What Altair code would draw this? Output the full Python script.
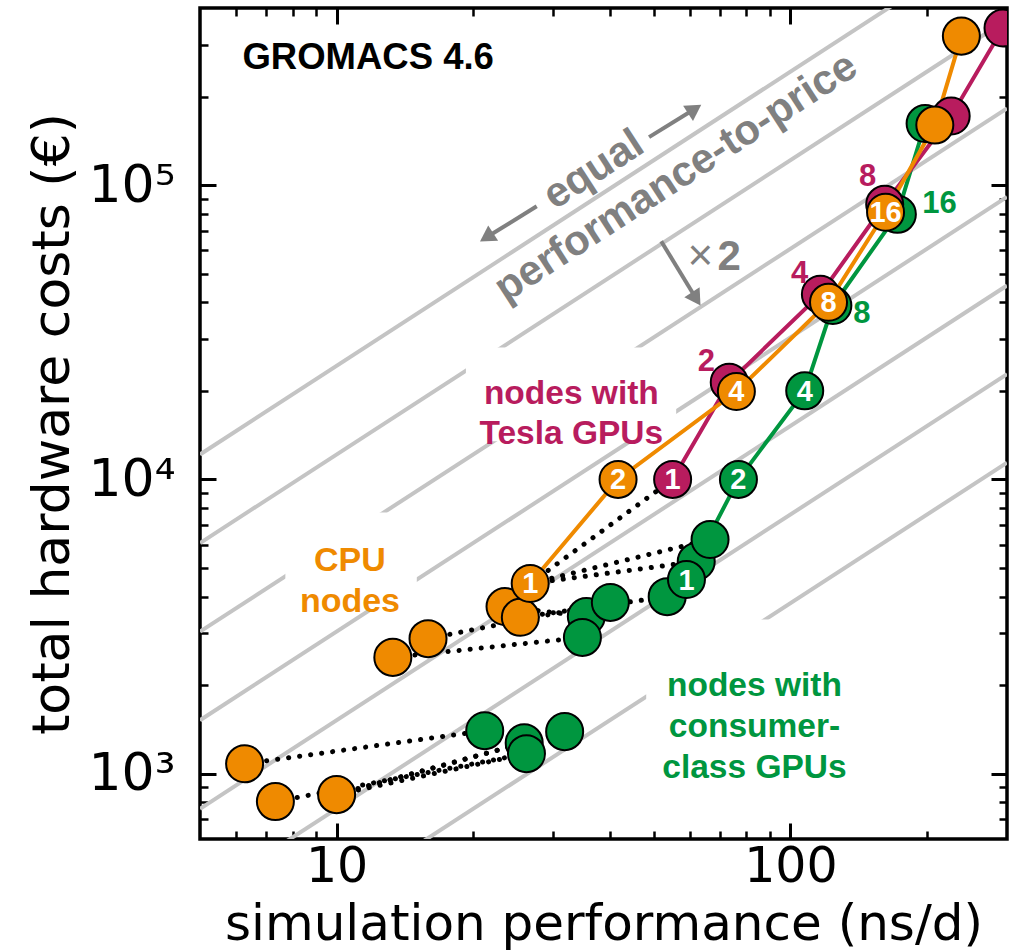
import altair as alt
import pandas as pd

# ---------------- data ----------------
# solid lines: nodes scaled over 1,2,4,8,16 nodes
cpu_perf = [26.7, 41.7, 76.0, 121.3, 162.0, 208.0, 238.0]
cpu_cost = [4430, 10000, 19900, 40000, 80900, 160000, 321000]
cpu_lbl = ["1", "2", "4", "8", "16", "", ""]

tesla_perf = [55.0, 73.3, 116.4, 161.3, 226.0, 294.0]
tesla_cost = [10000, 21400, 42600, 86100, 171800, 342000]
tesla_lbl = ["1", "", "", "", "", ""]

cons_perf = [59.0, 76.8, 107.5, 124.0, 172.0, 198.0]
cons_cost = [4570, 10000, 20000, 39000, 79600, 162000]
cons_lbl = ["1", "2", "4", "", "", ""]

# single-node configurations
cpu_x_perf = [6.27, 7.33, 10.0, 13.3, 15.9, 23.5, 25.4]
cpu_x_cost = [1081, 804, 849, 2485, 2877, 3700, 3400]
cons_x_perf = [21.2, 25.9, 26.2, 31.8, 35.5, 40.1, 34.8, 53.5, 62.0, 66.5]
cons_x_cost = [1400, 1273, 1170, 1390, 3420, 3820, 2905, 3997, 5260, 6250]

# dotted links: CPU node -> same node with GPU(s)
dot_from_perf = [6.27, 7.33, 10.0, 10.0, 10.0, 13.3, 15.9, 23.5, 25.4, 26.7, 26.7, 26.7]
dot_from_cost = [1081, 804, 849, 849, 849, 2485, 2877, 3700, 3400, 4430, 4430, 4430]
dot_to_perf = [21.2, 26.2, 25.9, 26.2, 31.8, 34.8, 40.1, 35.5, 53.5, 55.0, 62.0, 66.5]
dot_to_cost = [1400, 1170, 1273, 1170, 1390, 2905, 3820, 3420, 3997, 10000, 5260, 6250]

# lines of equal performance-to-price (euro per ns/d), factor 2 apart
iso_ratio = [2432, 1216, 608, 304, 152, 76, 38]

# outside point labels
out_lbl = ["2", "4", "8", "8", "16"]
out_perf = [65.3, 104.7, 148.0, 143.6, 213.0]
out_cost = [25000, 49800, 106400, 36400, 86100]
out_grp = ["tesla", "tesla", "tesla", "cons", "cons"]

# white boxes behind the group labels
box_x1 = [19.27, 7.71, 48.1]
box_x2 = [56.0, 15.02, 145.5]
box_y1 = [13470, 3614, 1189]
box_y2 = [28100, 7724, 3344]

X_DOMAIN = [5, 300]
Y_DOMAIN = [600, 400000]
X_MAJOR = [10, 100]
X_MINOR = [6, 7, 8, 9, 20, 30, 40, 50, 60, 70, 80, 90, 200]
Y_MAJOR = [1000, 10000, 100000]
Y_MINOR = [700, 800, 900, 2000, 3000, 4000, 5000, 6000, 7000, 8000, 9000,
           20000, 30000, 40000, 50000, 60000, 70000, 80000, 90000, 200000, 300000]

ORANGE = "#EF8A00"
MAGENTA = "#B81C5E"
GREEN = "#00963F"
GRAY = "#808080"
LGRAY = "#C4C4C4"
FONT = "Liberation Sans"
AXFONT = "DejaVu Sans"

xs = alt.Scale(type="log", domain=X_DOMAIN, nice=False)
ys = alt.Scale(type="log", domain=Y_DOMAIN, nice=False)

# ---------------- axes ----------------
def tick_axis(orient, values, size, width):
    return alt.Axis(orient=orient, values=values, tickSize={"expr": str(-size)},
                    tickWidth=width, tickColor="black", labels=False, domain=False,
                    grid=False, title=None)

ax_x_lab = alt.Axis(orient="bottom", values=X_MAJOR, ticks=False, domain=False, grid=False,
                    format="d", labelFont=AXFONT, labelFontSize=49, labelColor="black",
                    labelPadding=3, labelFlush=False, labelOverlap=False,
                    title="simulation performance (ns/d)", titleFont=AXFONT,
                    titleFontSize=50, titleFontWeight="normal", titleColor="black",
                    titleBaseline="alphabetic", titleY=100)
ax_y_lab = alt.Axis(orient="left", values=Y_MAJOR, ticks=False, domain=False, grid=False,
                    labelExpr="datum.value == 1000 ? '10³' : (datum.value == 10000 ? '10⁴' : '10⁵')",
                    labelFont=AXFONT, labelFontSize=52, labelColor="black",
                    labelPadding=25, labelFlush=False, labelOverlap=False,
                    title="total hardware costs (€)", titleFont=AXFONT,
                    titleFontSize=52, titleFontWeight="normal", titleColor="black",
                    titleAngle=270, titleBaseline="alphabetic", titleAlign="center",
                    titleX=-132, titleY=415.5)

W, H = 807, 831

def X(field, axis):
    return alt.X(field, type="quantitative", scale=xs, axis=axis)

def Y(field, axis):
    return alt.Y(field, type="quantitative", scale=ys, axis=axis)

# ---------------- layers ----------------
iso_rows = []
for r in iso_ratio:
    for xv in X_DOMAIN:
        iso_rows.append({"ratio": r, "perf": xv, "cost": r * xv})
iso_df = pd.DataFrame(iso_rows)
iso = alt.Chart(iso_df).mark_line(clip=True, color=LGRAY, strokeWidth=4).encode(
    x=X("perf", ax_x_lab), y=Y("cost", ax_y_lab), detail="ratio:N")

box_df = pd.DataFrame({"x1": box_x1, "x2": box_x2, "y1": box_y1, "y2": box_y2})
boxes = alt.Chart(box_df).mark_rect(color="white").encode(
    x=X("x1", tick_axis("bottom", X_MAJOR, 16, 3)), x2="x2",
    y=Y("y1", tick_axis("left", Y_MAJOR, 16, 3)), y2="y2")

dot_rows = []
for i in range(len(dot_from_perf)):
    dot_rows.append({"pair": i, "perf": dot_from_perf[i], "cost": dot_from_cost[i]})
    dot_rows.append({"pair": i, "perf": dot_to_perf[i], "cost": dot_to_cost[i]})
dot_df = pd.DataFrame(dot_rows)
dots = alt.Chart(dot_df).mark_line(color="black", strokeWidth=5, strokeCap="round",
                                   strokeDash=[0.1, 11]).encode(
    x=X("perf", tick_axis("bottom", X_MINOR, 8, 2.5)),
    y=Y("cost", tick_axis("left", Y_MINOR, 8, 2.5)), detail="pair:N")

def series_line(perf, cost, color, xa=None, ya=None):
    df = pd.DataFrame({"perf": perf, "cost": cost, "i": list(range(len(perf)))})
    return alt.Chart(df).mark_line(color=color, strokeWidth=4, clip=True).encode(
        x=X("perf", xa), y=Y("cost", ya), order="i:Q")

line_cons = series_line(cons_perf, cons_cost, GREEN,
                        tick_axis("top", X_MAJOR, 16, 3), tick_axis("right", Y_MAJOR, 16, 3))
line_tesla = series_line(tesla_perf, tesla_cost, MAGENTA)
line_cpu = series_line(cpu_perf, cpu_cost, ORANGE)

# points: green first, then magenta, then orange on top
pts_rows = []
for p, c in zip(cons_x_perf, cons_x_cost):
    pts_rows.append({"perf": p, "cost": c, "grp": "cons", "lbl": ""})
for p, c, l in zip(cons_perf, cons_cost, cons_lbl):
    pts_rows.append({"perf": p, "cost": c, "grp": "cons", "lbl": l})
for p, c, l in zip(tesla_perf, tesla_cost, tesla_lbl):
    pts_rows.append({"perf": p, "cost": c, "grp": "tesla", "lbl": l})
for p, c in zip(cpu_x_perf, cpu_x_cost):
    pts_rows.append({"perf": p, "cost": c, "grp": "cpu", "lbl": ""})
for p, c, l in zip(cpu_perf, cpu_cost, cpu_lbl):
    pts_rows.append({"perf": p, "cost": c, "grp": "cpu", "lbl": l})
pts_df = pd.DataFrame(pts_rows)
grp_scale = alt.Scale(domain=["cpu", "tesla", "cons"], range=[ORANGE, MAGENTA, GREEN])

points = alt.Chart(pts_df).mark_point(shape="circle", filled=True, size=1370, opacity=1,
                                      stroke="black", strokeWidth=2, clip=True).encode(
    x=X("perf", tick_axis("top", X_MINOR, 8, 2.5)),
    y=Y("cost", tick_axis("right", Y_MINOR, 8, 2.5)),
    fill=alt.Fill("grp:N", scale=grp_scale, legend=None))

in_labels = alt.Chart(pts_df).transform_filter("datum.lbl != ''").mark_text(
    font=FONT, fontWeight="bold", fontSize=29, color="white", baseline="middle",
    align="center", dy=1).encode(x=X("perf", None), y=Y("cost", None), text="lbl:N")

out_df = pd.DataFrame({"perf": out_perf, "cost": out_cost, "grp": out_grp, "lbl": out_lbl})
out_labels = alt.Chart(out_df).mark_text(font=FONT, fontWeight="bold", fontSize=31,
                                         baseline="middle", align="center").encode(
    x=X("perf", None), y=Y("cost", None), text="lbl:N",
    color=alt.Color("grp:N", scale=grp_scale, legend=None))

# annotation texts
ann_x = [6.2, 32.9, 10.7, 83.3, 36.8, 55.9, 63.3, 73.3]
ann_y = [270000, 19460, 5303, 1992, 113000, 106500, 56900, 56900]

def note(i, text, color, size, align="center", angle=0, line_height=None, weight="bold"):
    df = pd.DataFrame({"perf": [ann_x[i]], "cost": [ann_y[i]]})
    kw = dict(text=text, font=FONT, fontWeight=weight, fontSize=size, color=color,
              align=align, baseline="middle", angle=angle)
    if line_height:
        kw["lineHeight"] = line_height
    return alt.Chart(df).mark_text(**kw).encode(x=X("perf", None), y=Y("cost", None))

notes = [
    note(0, "GROMACS 4.6", "black", 36.5, align="left"),
    note(1, ["nodes with", "Tesla GPUs"], MAGENTA, 33.5, line_height=40),
    note(2, ["CPU", "nodes"], ORANGE, 34, line_height=41),
    note(3, ["nodes with", "consumer-", "class GPUs"], GREEN, 33.5, line_height=41),
    note(4, "equal", GRAY, 42, angle=327),
    note(5, "performance-to-price", GRAY, 42, angle=327),
    note(6, "×", GRAY, 44, weight="normal"),
    note(7, "2", GRAY, 42),
]

# arrows (tail -> head centre)
arr_x1 = [27.6, 48.8, 51.9]
arr_y1 = [84800, 145600, 64500]
arr_x2 = [21.4, 61.5, 62.0]
arr_y2 = [66500, 181400, 41100]
arr_shape = ["triangle-left", "triangle-right", "triangle-down"]
arr_df = pd.DataFrame({"x1": arr_x1, "y1": arr_y1, "x2": arr_x2, "y2": arr_y2, "shape": arr_shape})
arr_shafts = alt.Chart(arr_df).mark_rule(color=GRAY, strokeWidth=4).encode(
    x=X("x1", None), y=Y("y1", None), x2="x2", y2="y2")
arr_heads = alt.Chart(arr_df).mark_point(filled=True, color=GRAY, opacity=1, size=330,
                                         angle=327).encode(
    x=X("x2", None), y=Y("y2", None),
    shape=alt.Shape("shape:N", scale=None))

chart = alt.layer(
    iso, boxes, *notes, arr_shafts, arr_heads, dots,
    line_cons, line_tesla, line_cpu, points, in_labels, out_labels,
).resolve_axis(x="independent", y="independent").properties(
    width=W, height=H,
    padding={"left": 200, "top": 8, "right": 11, "bottom": 112},
    autosize=alt.AutoSizeParams(type="none"),
    background="white",
).configure_view(stroke="black", strokeWidth=3.5)

chart.save("out.html", embed_options={"renderer": "svg", "actions": False})
